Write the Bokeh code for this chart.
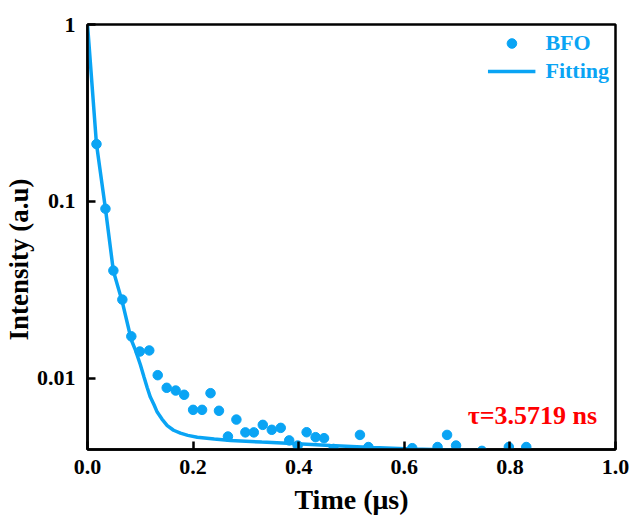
from bokeh.plotting import figure
from bokeh.models import Range1d, FixedTicker, Label, Legend, LegendItem, Title
from bokeh.embed import file_html
from bokeh.resources import INLINE

time_us = [0.017, 0.034, 0.049, 0.066, 0.083, 0.099, 0.117, 0.133, 0.150, 0.167,
           0.183, 0.200, 0.217, 0.233, 0.249, 0.266, 0.282, 0.299, 0.315, 0.332,
           0.349, 0.366, 0.382, 0.398, 0.415, 0.432, 0.448, 0.466, 0.516, 0.532,
           0.615, 0.663, 0.681, 0.698, 0.747, 0.798, 0.831]
intensity = [0.211, 0.091, 0.0407, 0.0279, 0.0173, 0.0142, 0.0144, 0.01044, 0.00886, 0.00855,
             0.00809, 0.00665, 0.00665, 0.00826, 0.00657, 0.0047, 0.00586, 0.00496, 0.00496, 0.00547,
             0.00513, 0.00526, 0.00447, 0.00418, 0.00497, 0.00466, 0.0046, 0.0040, 0.0048, 0.0041,
             0.00404, 0.0041, 0.0048, 0.00418, 0.0039, 0.0041, 0.0041]

# Fitted curve samples
fit_t = [0.0, 0.017, 0.034, 0.049, 0.066, 0.083, 0.091, 0.100, 0.107, 0.113, 0.119, 0.126, 0.132,
         0.141, 0.151, 0.163, 0.176, 0.190, 0.208, 0.240, 0.271, 0.330, 0.397, 0.46, 0.540, 0.615, 0.75, 1.0]
fit_y = [1.0, 0.211, 0.091, 0.0405, 0.027, 0.0165, 0.0144, 0.0120, 0.0102, 0.0089, 0.00785, 0.0071, 0.00646,
         0.0059, 0.00542, 0.0051, 0.00491, 0.00477, 0.00466, 0.00455, 0.00447, 0.00437, 0.00428, 0.00418, 0.00408, 0.00400, 0.0039, 0.0038]

x_ticks = [0.0, 0.2, 0.4, 0.6, 0.8, 1.0]
x_tick_labels = ["0.0", "0.2", "0.4", "0.6", "0.8", "1.0"]
y_ticks = [0.01, 0.1, 1.0]
y_tick_labels = ["0.01", "0.1", "1"]
x_title = "Time (\u03bcs)"
y_title = "Intensity (a.u)"
tau_text = "\u03c4=3.5719 ns"

BLUE = "#0AA4F4"
FONT = "Liberation Serif"

p = figure(width=630, height=517, y_axis_type="log",
           x_range=Range1d(0, 1), y_range=Range1d(0.00397, 1),
           output_backend="svg", toolbar_location=None,
           min_border_left=87, min_border_right=15, min_border_top=24, min_border_bottom=68)

p.xgrid.visible = False
p.ygrid.visible = False
p.outline_line_color = "black"
p.outline_line_width = 2.5
p.outline_line_alpha = 1.0

line_r = p.line(fit_t, fit_y, line_color=BLUE, line_width=3.5)
pts_r = p.scatter(time_us, intensity, size=9.5, fill_color=BLUE, line_color=BLUE, marker="circle")

for ax in (p.xaxis[0], p.yaxis[0]):
    ax.axis_line_width = 2.5
    ax.axis_line_color = "black"
    ax.major_tick_line_width = 2.5
    ax.major_tick_in = 8
    ax.major_tick_out = 0
    ax.minor_tick_in = 0
    ax.minor_tick_out = 0
    ax.major_label_text_font = FONT
    ax.major_label_text_font_style = "bold"
    ax.major_label_text_color = "black"
    ax.axis_label_text_font = FONT
    ax.axis_label_text_font_style = "bold"
    ax.axis_label_text_color = "black"

p.xaxis.major_label_standoff = 10
p.yaxis.major_label_standoff = 12
p.xaxis.major_label_text_font_size = "22px"
p.yaxis.major_label_text_font_size = "22px"
p.xaxis.axis_label_text_font_size = "28px"

p.xaxis.ticker = FixedTicker(ticks=x_ticks)
p.xaxis.major_label_overrides = {t: l for t, l in zip(x_ticks, x_tick_labels)}
p.yaxis.ticker = FixedTicker(ticks=y_ticks)
p.yaxis.major_label_overrides = {t: l for t, l in zip(y_ticks, y_tick_labels)}
p.xaxis.axis_label = x_title
p.xaxis.axis_label_standoff = 7

# y-axis title as a side title, sitting a little below the frame centre as in the reference
p.add_layout(Title(text=y_title, align="left", offset=109, standoff=0,
                   text_color="black", text_font=FONT, text_font_style="bold",
                   text_font_size="27px"), "left")

legend = Legend(items=[LegendItem(label="BFO", renderers=[pts_r]),
                       LegendItem(label="Fitting", renderers=[line_r])],
                location="top_right")
legend.border_line_color = None
legend.background_fill_alpha = 0
legend.margin = 6
legend.padding = 7
legend.spacing = 2
legend.glyph_width = 48
legend.glyph_height = 24
legend.label_height = 24
legend.label_standoff = 10
legend.label_text_font = FONT
legend.label_text_font_style = "bold"
legend.label_text_font_size = "22px"
legend.label_text_color = BLUE
p.add_layout(legend)

p.add_layout(Label(x=0.72, y=0.0062, text=tau_text, text_color="red",
                   text_font=FONT, text_font_style="bold", text_font_size="26px",
                   text_baseline="alphabetic"))

open("out.html", "w").write(file_html(p, INLINE))
